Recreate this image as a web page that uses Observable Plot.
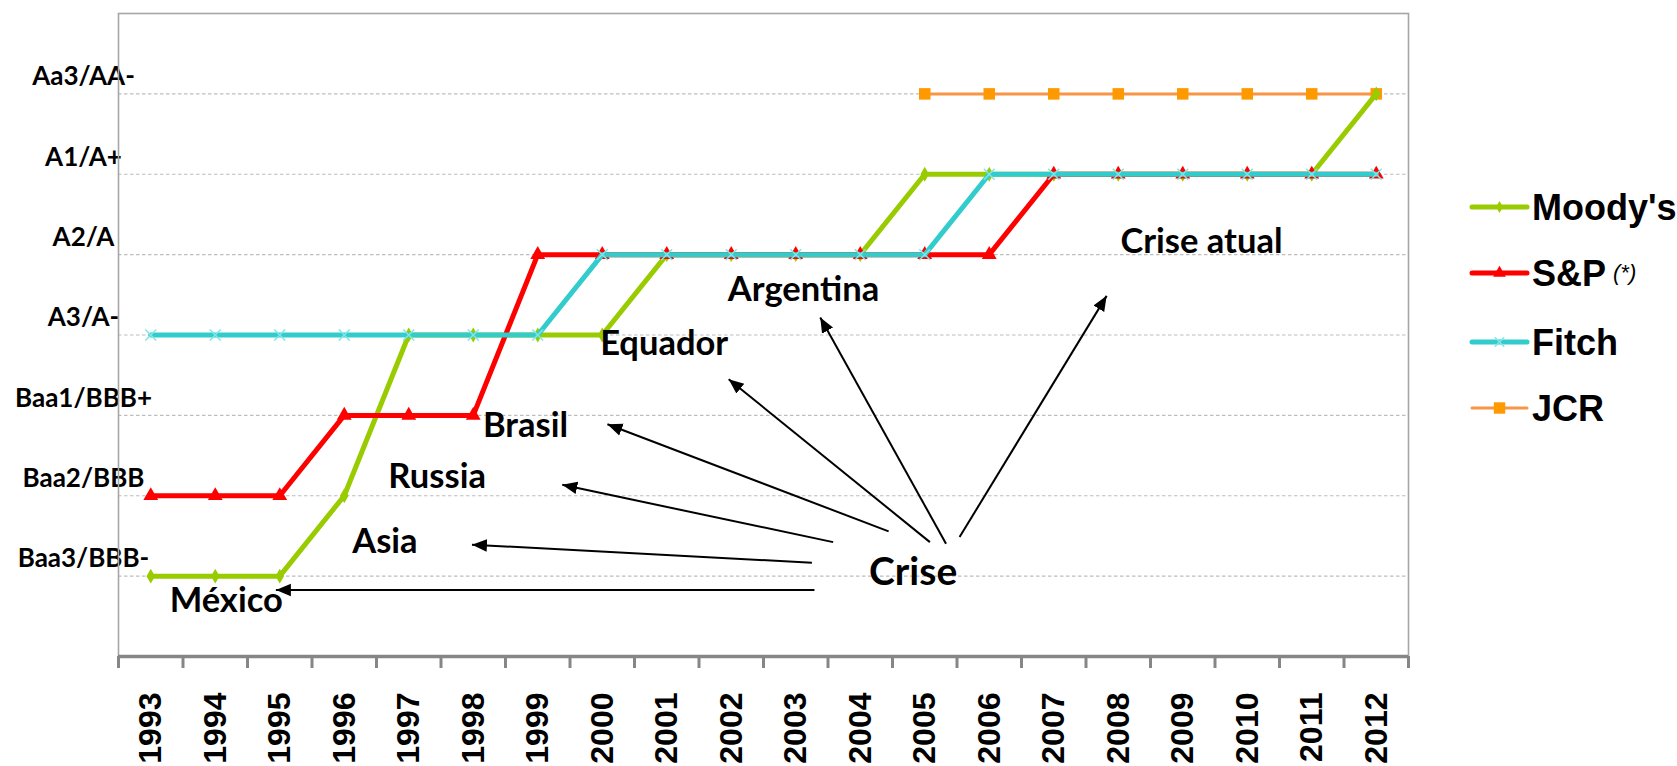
<!DOCTYPE html>
<html>
<head>
<meta charset="utf-8">
<script src="https://cdn.jsdelivr.net/npm/d3@7"></script>
<script src="https://cdn.jsdelivr.net/npm/@observablehq/plot@0.6"></script>
<style>
  html, body { margin: 0; padding: 0; background: #fff; }
  #wrap { position: relative; width: 1677px; height: 766px; overflow: hidden; background: #fff; }
  #wrap svg { display: block; }
</style>
</head>
<body>
<div id="wrap"></div>
<script>
// ---- categories ----
const years = [1993, 1994, 1995, 1996, 1997, 1998, 1999, 2000, 2001, 2002,
               2003, 2004, 2005, 2006, 2007, 2008, 2009, 2010, 2011, 2012];

// ---- rating scale (tick labels) ----
const ratingLevels = [1, 2, 3, 4, 5, 6, 7];
const ratingLabels = ["Baa3/BBB-", "Baa2/BBB", "Baa1/BBB+", "A3/A-", "A2/A", "A1/A+", "Aa3/AA-"];

// ---- series (rating level per year) ----
const moodys = [1, 1, 1, 2, 4, 4, 4, 4, 5, 5, 5, 5, 6, 6, 6, 6, 6, 6, 6, 7];
const sp     = [2, 2, 2, 3, 3, 3, 5, 5, 5, 5, 5, 5, 5, 5, 6, 6, 6, 6, 6, 6];
const fitch  = [4, 4, 4, 4, 4, 4, 4, 5, 5, 5, 5, 5, 5, 6, 6, 6, 6, 6, 6, 6];
const jcrYears = [2005, 2006, 2007, 2008, 2009, 2010, 2011, 2012];
const jcr      = [7, 7, 7, 7, 7, 7, 7, 7];

// ---- legend ----
const seriesNames = ["Moody's", "S&P", "Fitch", "JCR"];
const seriesNote = "(*)";

// ---- annotations (data coordinates: year, rating level) ----
const crisisNames = ["México", "Asia", "Russia", "Brasil", "Equador", "Argentina", "Crise atual"];
const crisisLabelX = [1994.17, 1996.63, 1997.44, 1998.81, 2000.96, 2003.12, 2009.29];
const crisisLabelY = [0.685, 1.423, 2.233, 2.870, 3.892, 4.558, 5.159];
const arrowFromX = [2003.29, 2003.25, 2003.58, 2004.44, 2005.08, 2005.33, 2005.54];
const arrowFromY = [0.828, 1.167, 1.423, 1.557, 1.423, 1.403, 1.486];
const arrowToX   = [1994.94, 1997.98, 1999.38, 2000.08, 2001.96, 2003.38, 2007.82];
const arrowToY   = [0.828, 1.391, 2.136, 2.889, 3.450, 4.218, 4.487];
const hubName = "Crise";
const hubX = 2004.82;
const hubY = 1.05;

// ---- build tables ----
const table = years.map((year, i) => ({year, moodys: moodys[i], sp: sp[i], fitch: fitch[i]}));
const jcrTable = jcrYears.map((year, i) => ({year, jcr: jcr[i]}));
const crises = crisisNames.map((name, i) => ({
  name, x: crisisLabelX[i], y: crisisLabelY[i],
  x1: arrowFromX[i], y1: arrowFromY[i], x2: arrowToX[i], y2: arrowToY[i]
}));
const hub = [{name: hubName, x: hubX, y: hubY}];
const boundaries = years.map(y => y - 0.5).concat([years[years.length - 1] + 0.5]);

const W = 1677, H = 766;
const calibriLike = "Lato, 'Open Sans', sans-serif";
const arialLike = "'Liberation Sans', Arial, sans-serif";

const chart = Plot.plot({
  width: W,
  height: H,
  marginLeft: 118,
  marginRight: 269,
  marginTop: 13,
  marginBottom: 110,
  x: {type: "linear", domain: [1992.5, 2012.5]},
  y: {domain: [0, 8]},
  style: {background: "#fff", overflow: "visible"},
  marks: [
    Plot.ruleY(ratingLevels, {stroke: "#bdbdbd", strokeWidth: 1.2, strokeDasharray: "3.5,2.5"}),
    Plot.axisY({ticks: ratingLevels, tickFormat: d => ratingLabels[d - 1], tickSize: 0, tickPadding: 35,
      textAnchor: "middle", dy: -17, fontSize: 26, fontWeight: "bold", fontFamily: calibriLike, fill: "#000"}),
    Plot.frame({stroke: "#a6a6a6", strokeWidth: 1.6}),
    Plot.ruleY([0], {stroke: "#868686", strokeWidth: 3.5}),
    Plot.axisX({ticks: boundaries, tickFormat: () => "", tickSize: 12, stroke: "#868686", strokeWidth: 3}),
    Plot.axisX({ticks: years, tickFormat: d => String(d), tickSize: 0, tickRotate: -90, tickPadding: 36,
      fontSize: 32, fontWeight: "bold", fontFamily: arialLike, fill: "#000"}),
    Plot.line(jcrTable, {x: "year", y: "jcr", stroke: "#F79646", strokeWidth: 3}),
    Plot.dot(jcrTable, {x: "year", y: "jcr", symbol: "square", r: 6.5, fill: "#FF9900"}),
    Plot.line(table, {x: "year", y: "moodys", stroke: "#99CC00", strokeWidth: 5}),
    Plot.dot(table, {x: "year", y: "moodys", symbol: "diamond", r: 4.5, fill: "#99CC00"}),
    Plot.line(table, {x: "year", y: "sp", stroke: "#FF0000", strokeWidth: 5}),
    Plot.dot(table, {x: "year", y: "sp", symbol: "triangle", r: 5.5, fill: "#FF0000"}),
    Plot.line(table, {x: "year", y: "fitch", stroke: "#33CCCC", strokeWidth: 5}),
    Plot.dot(table, {x: "year", y: "fitch", symbol: "times", r: 5, stroke: "#7fe6e6", strokeWidth: 1.5}),
    Plot.link(crises, {x1: "x1", y1: "y1", x2: "x2", y2: "y2", stroke: "#000", strokeWidth: 2, markerEnd: "arrow"}),
    Plot.text(crises, {x: "x", y: "y", text: "name", fontSize: 34.5, fontWeight: "bold", fontFamily: calibriLike, fill: "#000"}),
    Plot.text(hub, {x: "x", y: "y", text: "name", fontSize: 39, fontWeight: "bold", fontFamily: calibriLike, fill: "#000"})
  ]
});

// filled arrowheads like the original
d3.select(chart).selectAll("marker").each(function () {
  const m = d3.select(this);
  m.attr("viewBox", "-10 -5 10 10").attr("markerWidth", 7.5).attr("markerHeight", 7.5)
   .attr("fill", "#000").attr("stroke", "none");
  m.select("path").attr("d", "M-10,-4.2L0,0L-10,4.2Z");
});

const wrap = document.getElementById("wrap");
wrap.appendChild(chart);

// ---- legend (right side) ----
const legendColors = ["#99CC00", "#FF0000", "#33CCCC", "#F79646"];
const legendMarkColors = ["#99CC00", "#FF0000", "#7fe6e6", "#FF9900"];
const legendWidths = [5, 5, 5, 3];
const legendSymbols = [d3.symbolDiamond, d3.symbolTriangle, d3.symbolTimes, d3.symbolSquare];
const legendSymbolSizes = [40, 70, 60, 130];

const leg = d3.select(wrap).append("svg")
  .attr("width", W).attr("height", H)
  .style("position", "absolute").style("left", "0px").style("top", "0px")
  .style("pointer-events", "none");

const rowY = [207, 273, 342, 408];
seriesNames.forEach((name, i) => {
  const g = leg.append("g").attr("transform", `translate(0,${rowY[i]})`);
  g.append("line").attr("x1", 1472).attr("x2", 1527).attr("y1", 0).attr("y2", 0)
    .attr("stroke", legendColors[i]).attr("stroke-width", legendWidths[i]).attr("stroke-linecap", "round");
  const sym = g.append("path").attr("transform", "translate(1499.5,0)")
    .attr("d", d3.symbol(legendSymbols[i], legendSymbolSizes[i])());
  if (i === 2) sym.attr("fill", "none").attr("stroke", legendMarkColors[i]).attr("stroke-width", 1.5);
  else sym.attr("fill", legendMarkColors[i]);
  g.append("text").attr("x", 1532).attr("y", 0).attr("dy", "0.36em")
    .attr("font-family", arialLike).attr("font-weight", "bold").attr("font-size", 36)
    .attr("fill", "#000").text(name);
  if (i === 1) {
    g.append("text").attr("x", 1613).attr("y", -1).attr("dy", "0.36em")
      .attr("font-family", arialLike).attr("font-style", "italic").attr("font-size", 22)
      .attr("fill", "#000").text(seriesNote);
  }
});
</script>
</body>
</html>
